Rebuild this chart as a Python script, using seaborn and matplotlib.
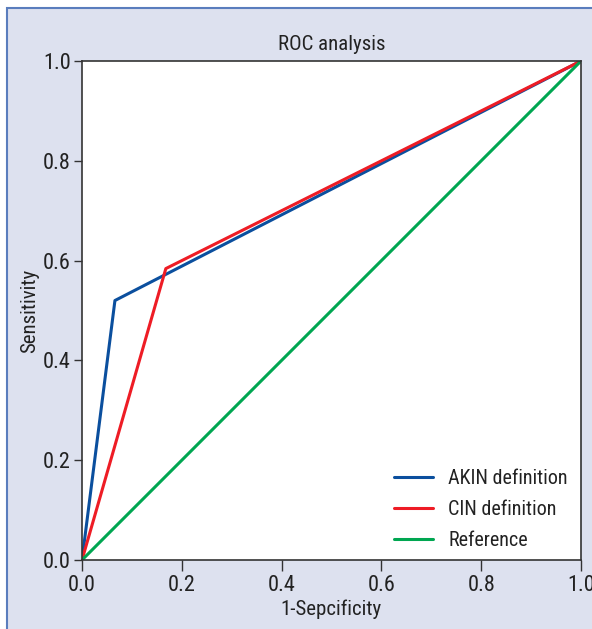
import matplotlib
matplotlib.use("Agg")
import matplotlib.pyplot as plt
from matplotlib.patches import Rectangle
import seaborn as sns
import pandas as pd

# Data
akin_fpr = [0.0, 0.066, 1.0]
akin_tpr = [0.0, 0.520, 1.0]
cin_fpr = [0.0, 0.168, 1.0]
cin_tpr = [0.0, 0.584, 1.0]
ref_fpr = [0.0, 1.0]
ref_tpr = [0.0, 1.0]
series_names = ["AKIN definition", "CIN definition", "Reference"]
ticks = [0.0, 0.2, 0.4, 0.6, 0.8, 1.0]
tick_labels = ["0.0", "0.2", "0.4", "0.6", "0.8", "1.0"]

rows = []
for name, xs, ys in zip(series_names, [akin_fpr, cin_fpr, ref_fpr], [akin_tpr, cin_tpr, ref_tpr]):
    for i, (x, y) in enumerate(zip(xs, ys)):
        rows.append({"fpr": x, "tpr": y, "series": name, "order": i})
df = pd.DataFrame(rows)

sns.set_theme(style="white")
plt.rcParams['font.family'] = ['Roboto Condensed', 'Archivo Narrow', 'Liberation Sans Narrow',
                               'Liberation Sans', 'DejaVu Sans']

W, H = 592, 629
fig = plt.figure(figsize=(W / 100, H / 100), dpi=100)
fig.patch.set_facecolor("white")
bg = Rectangle((7 / W, -0.05), 1.2, 1.05 - 8 / H, transform=fig.transFigure,
               facecolor="#dde1ef", edgecolor="#5a7dbd", linewidth=1.5, zorder=-10)
fig.patches.append(bg)

ax = fig.add_axes([82 / W, 1 - 560 / H, (581 - 82) / W, (560 - 61) / H])
ax.set_facecolor("white")

palette = {"AKIN definition": "#0b4f9e", "CIN definition": "#ee1c25", "Reference": "#00a651"}
sns.lineplot(data=df, x="fpr", y="tpr", hue="series", hue_order=series_names,
             palette=palette, sort=False, estimator=None, units="series",
             linewidth=2.2, ax=ax, legend=True)

ax.set_xlim(0, 1)
ax.set_ylim(0, 1)
ax.set_xticks(ticks)
ax.set_xticklabels(tick_labels)
ax.set_yticks(ticks)
ax.set_yticklabels(tick_labels)
ax.tick_params(axis="both", direction="out", width=1, colors="#333333",
               labelsize=16, labelcolor="#222222")
ax.tick_params(axis="x", length=8, pad=3, bottom=True)
ax.tick_params(axis="y", length=6, pad=2, left=True)
for s in ax.spines.values():
    s.set_color("#333333")
    s.set_linewidth(1.2)

ax.set_xlabel("1-Sepcificity", fontsize=15, color="#222222", labelpad=2)
ax.set_ylabel("Sensitivity", fontsize=15, color="#222222", labelpad=3)
ax.set_title("ROC analysis", fontsize=15, color="#222222", pad=8)

leg = ax.legend(loc="lower right", bbox_to_anchor=(1 - 3 / 499, 0), frameon=False,
                fontsize=14.5, handlelength=1.95, handletextpad=0.75, labelspacing=0.6,
                borderaxespad=0, borderpad=0.5)
for t in leg.get_texts():
    t.set_color("#222222")
for h in leg.get_lines():
    h.set_linewidth(2.2)

fig.savefig("out.png", dpi=100, facecolor=fig.get_facecolor())
